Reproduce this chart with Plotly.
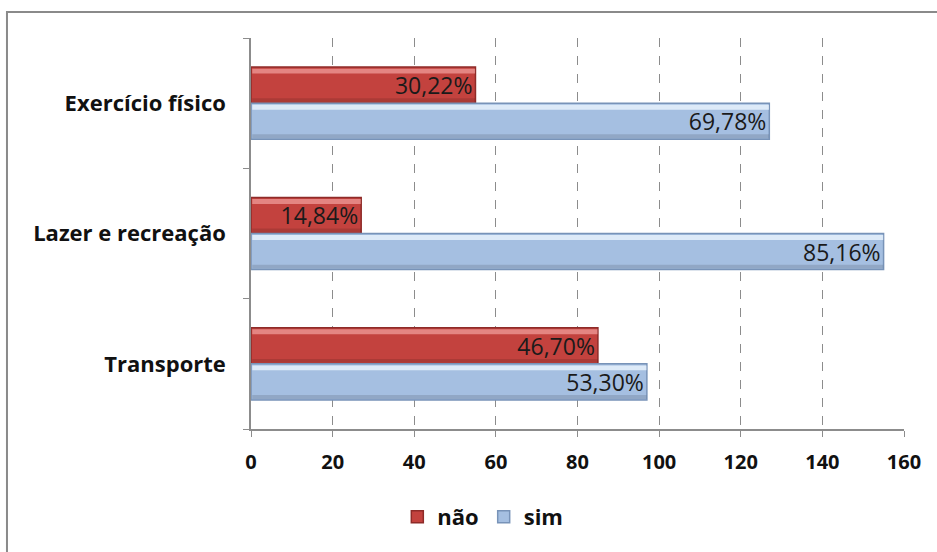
import plotly.graph_objects as go

# Physical activity domains (bottom to top on the chart)
categories = ["Transporte", "Lazer e recreação", "Exercício físico"]
# Number of respondents per answer
nao_counts = [85, 27, 55]
sim_counts = [97, 155, 127]
x_ticks = [0, 20, 40, 60, 80, 100, 120, 140, 160]


def pct_labels(part, other):
    out = []
    for a, b in zip(part, other):
        out.append(f"{a / (a + b) * 100:.2f}%".replace(".", ","))
    return out


sim_text = pct_labels(sim_counts, nao_counts)
nao_text = pct_labels(nao_counts, sim_counts)

FONT = "'Open Sans', Lato, sans-serif"
label_font = dict(family=FONT, size=23, color="#1a1a1a")

BAR_W = 0.277  # thickness of one bar in category units
series = [
    # name, counts, labels, fill, outline, highlight, offset
    ("não", nao_counts, nao_text, "#C3423E", "#8E2B28", "rgba(255,190,185,0.55)", 0.0),
    ("sim", sim_counts, sim_text, "#A5BFE1", "#7893B8", "rgba(240,248,255,0.75)", -BAR_W),
]

fig = go.Figure()

# solid bodies
for name, vals, _, fill, outline, _, off in series:
    fig.add_trace(go.Bar(
        y=categories, x=vals, orientation="h", name=name,
        offset=off, width=BAR_W,
        marker=dict(color=fill, line=dict(color=outline, width=1.5)),
        hoverinfo="skip",
    ))

# bevel: light top edge and darker bottom edge
for name, vals, _, _, _, hi, off in series:
    fig.add_trace(go.Bar(
        y=categories, x=[v - 0.4 for v in vals], base=0.3, orientation="h",
        offset=off + BAR_W - 0.05, width=0.038,
        marker=dict(color=hi, line=dict(width=0)),
        showlegend=False, hoverinfo="skip",
    ))
    fig.add_trace(go.Bar(
        y=categories, x=[v - 0.4 for v in vals], base=0.3, orientation="h",
        offset=off + 0.008, width=0.03,
        marker=dict(color="rgba(0,0,0,0.12)", line=dict(width=0)),
        showlegend=False, hoverinfo="skip",
    ))

# percentage labels at the end of each bar
for name, vals, txt, _, _, _, off in series:
    fig.add_trace(go.Bar(
        y=categories, x=vals, orientation="h",
        offset=off, width=BAR_W,
        marker=dict(color="rgba(0,0,0,0)", line=dict(width=0)),
        text=txt, textposition="inside", insidetextanchor="end",
        textfont=label_font, constraintext="none",
        showlegend=False, name=name,
        hovertemplate="%{y}: %{x} (%{text})<extra>" + name + "</extra>",
    ))

fig.update_layout(
    width=937, height=552,
    margin=dict(l=251, r=33, t=38, b=123),
    paper_bgcolor="white", plot_bgcolor="white",
    barmode="overlay",
    font=dict(family=FONT, color="#111111"),
    showlegend=True,
    legend=dict(
        orientation="h", traceorder="normal",
        x=0.355, xanchor="center", y=-0.225, yanchor="middle",
        font=dict(size=22, family=FONT, weight="bold"),
        itemwidth=30,
    ),
    shapes=[dict(
        type="rect", xref="paper", yref="paper",
        x0=-0.3737, x1=1.2, y0=-0.6, y1=1.0665,
        line=dict(color="#8a8a8a", width=2), fillcolor="rgba(0,0,0,0)",
        layer="below",
    )],
)

fig.update_xaxes(
    range=[0, 160], tickvals=x_ticks, ticktext=[str(v) for v in x_ticks],
    showgrid=True, gridcolor="#8c8c8c", griddash="dash", gridwidth=1,
    showline=True, linecolor="#8c8c8c", linewidth=1.5,
    ticks="outside", ticklen=6, tickcolor="#8c8c8c",
    tickfont=dict(size=20, family=FONT, weight="bold", color="#111111"),
    ticklabelstandoff=8, zeroline=False,
)
fig.update_yaxes(
    categoryorder="array", categoryarray=categories,
    range=[-0.5, 2.5],
    showline=True, linecolor="#8c8c8c", linewidth=1.5,
    ticks="outside", ticklen=6, tickcolor="#8c8c8c", tickson="boundaries",
    tickfont=dict(size=22, family=FONT, weight="bold", color="#111111"),
    ticklabelstandoff=19, showgrid=False,
)

fig.write_html("out.html")
